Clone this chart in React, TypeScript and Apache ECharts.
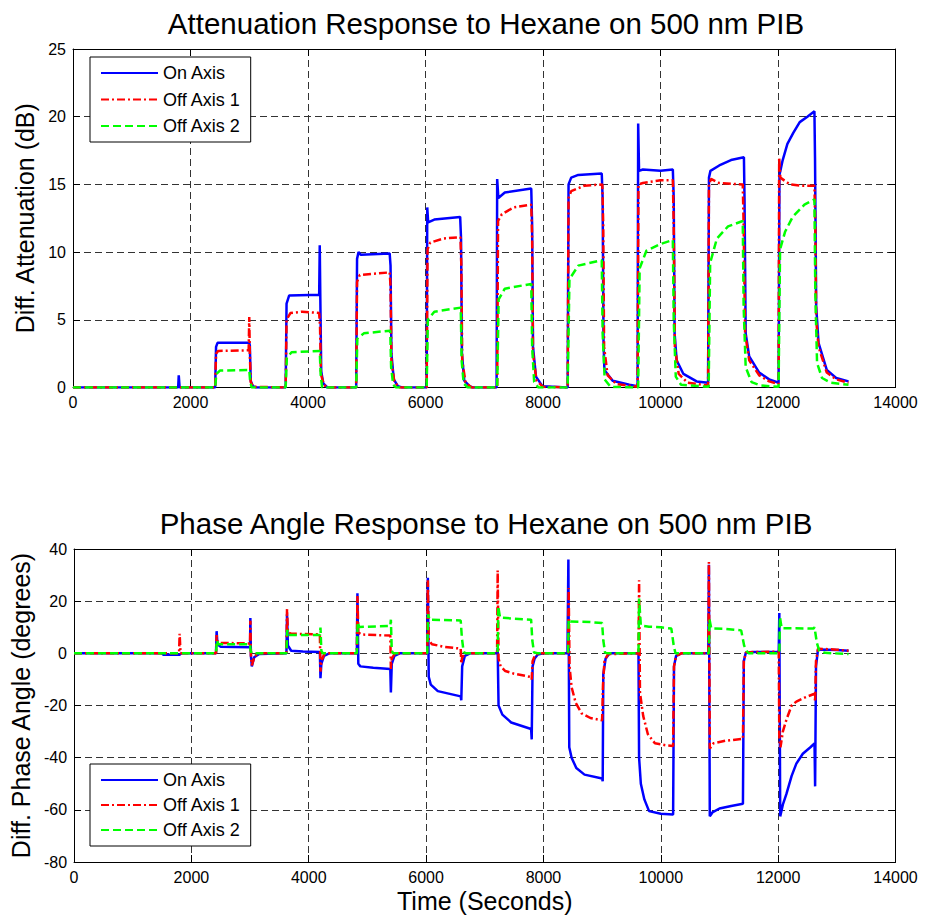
import React, { useEffect, useRef } from "react";
import * as echarts from "echarts";

const seriesNames = ["On Axis", "Off Axis 1", "Off Axis 2"];
const topTitle = "Attenuation Response to Hexane on 500 nm PIB";
const bottomTitle = "Phase Angle Response to Hexane on 500 nm PIB";
const xName = "Time (Seconds)";
const topYName = "Diff. Attenuation (dB)";
const bottomYName = "Diff. Phase Angle (degrees)";

// Attenuation (dB) vs time (s)
const attOnAxis: number[][] = [
  [0, 0], [1790, 0], [1800, 0.9], [1815, 0], [2420, 0], [2435, 3.0], [2460, 3.3], [3000, 3.3], [3010, 3.1], [3025, 0.5], [3060, 0.1], [3120, 0],
  [3620, 0], [3635, 6.2], [3680, 6.8], [4190, 6.85], [4200, 10.5], [4210, 6.5], [4225, 1.2], [4260, 0.3], [4330, 0],
  [4820, 0], [4835, 9.5], [4860, 10.0], [4900, 9.8], [5390, 9.9], [5405, 9.0], [5420, 2.5], [5460, 0.6], [5530, 0.1], [5600, 0],
  [6020, 0], [6030, 13.3], [6045, 12.2], [6150, 12.4], [6590, 12.6], [6605, 11], [6620, 2.5], [6660, 0.5], [6750, 0.1], [6800, 0],
  [7210, 0], [7220, 15.4], [7240, 14.0], [7350, 14.4], [7800, 14.7], [7815, 12], [7830, 3], [7880, 0.8], [7990, 0.1],
  [8420, 0], [8435, 15.0], [8480, 15.5], [8600, 15.7], [9000, 15.8], [9015, 14], [9030, 3.5], [9045, 1.3], [9185, 0.5], [9470, 0.2], [9610, 0.1],
  [9620, 19.5], [9635, 16.0], [9700, 16.1], [10000, 16.0], [10210, 16.1], [10225, 14], [10240, 4], [10275, 2.0], [10390, 1.0], [10615, 0.45], [10810, 0.35],
  [10825, 15.5], [10850, 16.0], [11000, 16.4], [11200, 16.8], [11420, 17.0], [11430, 14], [11450, 4], [11510, 2.3], [11680, 1.1], [11850, 0.6], [12010, 0.35],
  [12025, 15.7], [12080, 16.8], [12160, 18.0], [12260, 18.8], [12370, 19.6], [12500, 20.0], [12620, 20.4], [12630, 17], [12650, 6], [12690, 3.3], [12830, 1.3], [12990, 0.7], [13200, 0.45],
];

const attOffAxis1: number[][] = [
  [0, 0], [2420, 0], [2435, 2.5], [2470, 2.7], [2990, 2.75], [3000, 5.2], [3010, 2.5], [3025, 0.4], [3070, 0.05],
  [3620, 0], [3635, 5.0], [3700, 5.5], [3900, 5.6], [4190, 5.5], [4205, 4.5], [4220, 1.0], [4270, 0.2], [4330, 0],
  [4820, 0], [4835, 7.8], [4880, 8.3], [5100, 8.4], [5390, 8.5], [5405, 7.5], [5420, 2], [5470, 0.4], [5560, 0],
  [6020, 0], [6035, 10.2], [6080, 10.7], [6300, 11.0], [6595, 11.1], [6610, 9], [6625, 2], [6680, 0.4], [6780, 0],
  [7220, 0], [7235, 12.3], [7300, 12.8], [7500, 13.3], [7800, 13.5], [7815, 11], [7830, 2.5], [7890, 0.5], [8000, 0.05],
  [8420, 0], [8435, 14.0], [8480, 14.5], [8700, 14.9], [9010, 15.0], [9025, 12], [9040, 3], [9100, 0.9], [9250, 0.25], [9610, 0.05],
  [9625, 15.0], [9700, 15.1], [10000, 15.3], [10210, 15.3], [10225, 12], [10245, 3], [10310, 1.0], [10460, 0.35], [10810, 0.15],
  [10825, 15.0], [10860, 15.4], [11000, 15.1], [11400, 15.0], [11415, 12], [11440, 4], [11510, 2.0], [11680, 0.9], [11850, 0.45], [12010, 0.25],
  [12020, 17.0], [12040, 15.5], [12200, 15.0], [12400, 14.9], [12620, 14.9], [12635, 12], [12650, 5], [12690, 3.0], [12830, 1.1], [12990, 0.6], [13200, 0.35],
];

const attOffAxis2: number[][] = [
  [0, 0], [2420, 0], [2440, 1.0], [2500, 1.25], [3000, 1.3], [3015, 0.5], [3040, 0],
  [3620, 0], [3640, 2.2], [3720, 2.6], [4200, 2.7], [4215, 1.0], [4240, 0],
  [4820, 0], [4840, 3.6], [4950, 4.0], [5400, 4.2], [5415, 1.5], [5450, 0.2], [5500, 0],
  [6020, 0], [6040, 5.0], [6150, 5.6], [6600, 5.9], [6615, 2.0], [6650, 0.3], [6720, 0],
  [7220, 0], [7245, 6.5], [7350, 7.3], [7800, 7.65], [7815, 3], [7850, 0.4], [7920, 0],
  [8420, 0], [8450, 8.0], [8600, 9.0], [9000, 9.4], [9015, 4], [9050, 0.6], [9150, 0.05],
  [9620, 0], [9645, 8.8], [9760, 10.1], [10000, 10.6], [10210, 10.9], [10225, 5], [10260, 0.8], [10350, 0.2],
  [10820, 0.05], [10845, 9.2], [10960, 11.0], [11150, 11.9], [11400, 12.3], [11415, 6], [11450, 1.5], [11550, 0.4], [11700, 0.15], [12010, 0.05],
  [12035, 10.2], [12120, 11.5], [12250, 12.6], [12450, 13.5], [12620, 13.9], [12635, 7], [12665, 1.8], [12750, 0.7], [12900, 0.35], [13200, 0.2],
];

// Phase angle (degrees) vs time (s)
const phaseOnAxis: number[][] = [
  [0, 0], [1500, 0], [1520, -0.5], [1800, -0.5], [1830, 0], [2420, 0], [2430, 8.5], [2445, 3.5], [2500, 2.5], [3000, 2.3], [3005, 13.5], [3015, -1], [3030, -5], [3070, -1.5], [3150, -0.3],
  [3620, 0], [3630, 15], [3645, 3], [3700, 1.0], [3900, 0.7], [4190, 0.5], [4200, -9.5], [4215, -4], [4260, -1], [4350, 0],
  [4820, 0], [4830, 23], [4845, -4], [4880, -5], [5100, -5.5], [5390, -6.0], [5400, -15], [5415, -4], [5460, -1], [5550, 0],
  [6020, 0], [6030, 29], [6045, -9], [6080, -12], [6200, -14.5], [6590, -16.5], [6600, -18], [6615, -5], [6660, -1], [6750, 0],
  [7210, 0], [7220, 2], [7235, -20], [7300, -23.5], [7450, -26.5], [7790, -29], [7800, -33], [7815, -5], [7850, -2], [7900, -0.5], [8000, 0],
  [8410, 0], [8425, 36], [8440, -36], [8480, -40], [8560, -44], [8700, -46.5], [9000, -48], [9010, -49], [9020, -8], [9060, -2], [9130, 0],
  [9620, 0], [9630, -40], [9660, -50], [9720, -56], [9800, -60.5], [10000, -61.5], [10210, -61.8], [10225, -5], [10260, -1], [10350, 0],
  [10810, 0], [10820, 34], [10835, -62.5], [10880, -61], [11000, -59.5], [11200, -58.5], [11400, -57.7], [11415, -3], [11450, 0.3], [11600, 0.5], [12010, 0.6],
  [12020, 15.5], [12035, -62.5], [12080, -58], [12140, -54], [12230, -47], [12310, -42.3], [12420, -38.5], [12550, -36], [12620, -34.5], [12630, -51], [12645, -5], [12680, 1.5], [13000, 1.3], [13200, 1.0],
];

const phaseOffAxis1: number[][] = [
  [0, 0], [1790, 0], [1800, 7.5], [1815, 0], [2420, 0], [2430, 7], [2445, 4.5], [2500, 4.0], [3000, 3.8], [3005, 12.5], [3015, -1], [3030, -4.6], [3080, -1], [3150, 0],
  [3620, 0], [3630, 17], [3645, 8], [3700, 7.5], [4190, 7.3], [4200, -7], [4215, -3], [4270, 0],
  [4820, 0], [4830, 22], [4845, 8], [4900, 7.2], [5390, 6.8], [5400, -6], [5415, -2], [5470, 0],
  [6020, 0], [6030, 28], [6045, 5], [6100, 3.5], [6300, 2.5], [6590, 1.8], [6600, -4], [6615, -1.5], [6680, 0],
  [7210, 0], [7220, 31.8], [7235, -2], [7270, -5], [7350, -6.8], [7500, -7.8], [7790, -9.1], [7800, -10], [7815, -3], [7860, -0.5], [7950, 0],
  [8420, 0], [8430, 25], [8445, -5], [8480, -13], [8550, -19], [8650, -23], [8800, -24.8], [9000, -25.7], [9015, -12], [9040, -3], [9100, -0.3],
  [9620, 0], [9630, 28], [9645, -15], [9700, -24], [9780, -31], [9900, -34.5], [10100, -35.3], [10210, -35.5], [10225, -5], [10260, -1], [10350, 0],
  [10810, 0], [10820, 35], [10835, -36.5], [10900, -34.5], [11100, -33.5], [11400, -32.8], [11415, -3], [11450, 0.3], [11600, 0.5], [12010, 0.6],
  [12020, -33], [12040, -36], [12080, -30], [12140, -25.5], [12230, -20], [12310, -18.5], [12450, -17], [12620, -15.5], [12630, -18.5], [12645, -3], [12680, 1.8], [13000, 1.4], [13200, 1.0],
];

const phaseOffAxis2: number[][] = [
  [0, 0], [2420, 0], [2435, 5], [2460, 3.5], [3000, 3.5], [3010, 1], [3030, 0],
  [3620, 0], [3635, 9], [3660, 7], [4190, 7], [4200, 9.9], [4215, 1], [4240, 0],
  [4820, 0], [4835, 12], [4860, 10.1], [5390, 10.5], [5400, 12.9], [5415, 1], [5440, 0],
  [6020, 0], [6035, 15], [6060, 12.9], [6590, 12.6], [6610, 6], [6640, 0.5], [6680, 0],
  [7220, 0], [7230, 18], [7260, 13.7], [7500, 13.3], [7790, 12.9], [7810, 5], [7840, 0.3], [7900, 0],
  [8420, 0], [8430, 13], [8460, 12.2], [8800, 12.0], [9000, 11.6], [9020, 5], [9050, 0.3], [9100, 0],
  [9620, 0], [9630, 21], [9660, 10.7], [9800, 10.2], [10000, 10.0], [10180, 9.5], [10220, 3], [10250, 0],
  [10820, 0], [10830, 13], [10860, 9.6], [11100, 9.4], [11370, 8.8], [11420, 3], [11460, 1], [11500, 0],
  [12020, 0], [12030, 14], [12060, 9.6], [12300, 9.6], [12600, 9.5], [12620, 10], [12660, 4], [12700, 1], [12800, 0.2], [13200, -0.3],
];

const FONT = "'Liberation Sans', Arial, Helvetica, sans-serif";
const colors = ["#0000ff", "#ff0000", "#00ff00"];
const dashes: any[] = ["solid", [8, 3, 2, 3], [8, 4]];

export default function App() {
  const ref = useRef<HTMLDivElement>(null);
  useEffect(() => {
    document.body.style.margin = "0";
    if (!ref.current) return;
    const chart = echarts.init(ref.current, undefined, { renderer: "svg" });

    const grids = [
      { left: 73, right: 29.5, top: 49, height: 338.5 },
      { left: 73, right: 29.5, top: 549, height: 313 },
    ];

    const splitLine = { show: true, lineStyle: { color: "#333", type: [7, 4] as any, width: 1 } };
    const axisLine = { show: true, onZero: false, lineStyle: { color: "#000", width: 1 } };
    const axisTick = { show: true, inside: true, length: 7, lineStyle: { color: "#000" } };
    const axisLabel = {
      color: "#000", fontSize: 16, fontFamily: FONT, margin: 7,
      formatter: (v: number) => String(v),
    };

    const xAxes: any[] = [];
    const yAxes: any[] = [];
    [0, 1].forEach((g) => {
      xAxes.push({
        type: "value", gridIndex: g, position: "bottom", min: 0, max: 14000, interval: 2000,
        axisLine, axisTick, axisLabel, splitLine,
        name: g === 1 ? xName : "", nameLocation: "middle", nameGap: 26,
        nameTextStyle: { color: "#000", fontSize: 25, fontFamily: FONT },
      });
      xAxes.push({
        type: "value", gridIndex: g, position: "top", min: 0, max: 14000, interval: 2000,
        axisLine, axisTick, axisLabel: { show: false }, splitLine: { show: false },
      });
      const yr = g === 0 ? { min: 0, max: 25, interval: 5 } : { min: -80, max: 40, interval: 20 };
      yAxes.push({
        type: "value", gridIndex: g, position: "left", ...yr,
        axisLine, axisTick, axisLabel, splitLine,
        name: g === 0 ? topYName : bottomYName, nameLocation: "middle", nameGap: 30,
        nameTextStyle: { color: "#000", fontSize: 25, fontFamily: FONT },
      });
      yAxes.push({
        type: "value", gridIndex: g, position: "right", ...yr,
        axisLine, axisTick, axisLabel: { show: false }, splitLine: { show: false },
      });
    });

    const groups = [
      [attOnAxis, attOffAxis1, attOffAxis2],
      [phaseOnAxis, phaseOffAxis1, phaseOffAxis2],
    ];
    const series: any[] = [];
    groups.forEach((grp, g) => {
      grp.forEach((data, i) => {
        series.push({
          type: "line",
          name: seriesNames[i],
          xAxisIndex: g * 2,
          yAxisIndex: g * 2,
          data,
          showSymbol: false,
          symbol: "none",
          lineStyle: { color: colors[i], width: 2.5, type: dashes[i] },
          itemStyle: { color: colors[i] },
          z: 2 + i,
        });
      });
    });

    const legendCommon = {
      orient: "vertical",
      left: 90,
      itemWidth: 57,
      itemHeight: 14,
      itemGap: 6.5,
      padding: [6, 10, 6, 10],
      borderColor: "#000",
      borderWidth: 1,
      backgroundColor: "#fff",
      itemStyle: { opacity: 0, borderWidth: 0 },
      textStyle: { color: "#000", fontSize: 18, fontFamily: FONT, lineHeight: 20 },
      data: seriesNames,
      selectedMode: false,
    };

    chart.setOption({
      animation: false,
      backgroundColor: "#fff",
      title: [
        { text: topTitle, left: 486, top: 8, textAlign: "center", padding: 0,
          textStyle: { color: "#000", fontSize: 29.5, fontWeight: "normal", fontFamily: FONT } },
        { text: bottomTitle, left: 486, top: 508, textAlign: "center", padding: 0,
          textStyle: { color: "#000", fontSize: 29.5, fontWeight: "normal", fontFamily: FONT } },
      ],
      legend: [
        { ...legendCommon, top: 57 },
        { ...legendCommon, top: 764, itemGap: 5 },
      ],
      grid: grids,
      xAxis: xAxes,
      yAxis: yAxes,
      series,
    });
    return () => chart.dispose();
  }, []);
  return <div ref={ref} style={{ width: 925, height: 919 }} />;
}
